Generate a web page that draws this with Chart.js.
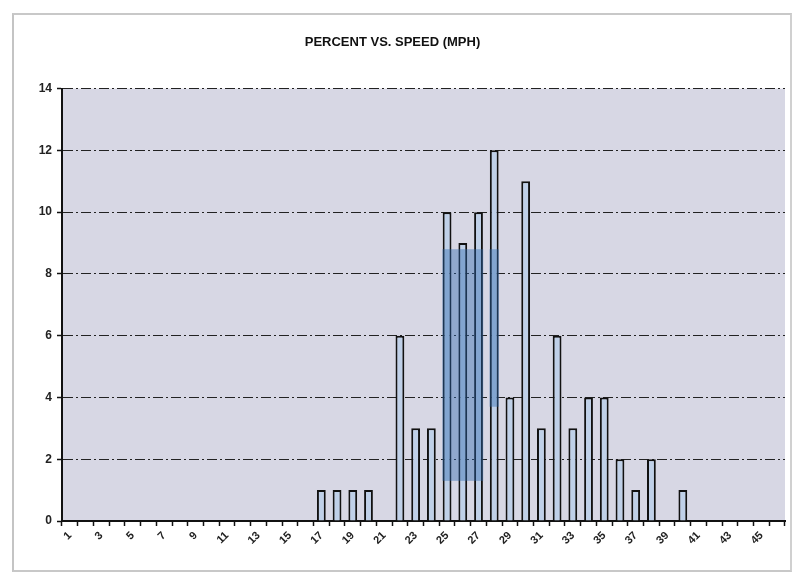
<!DOCTYPE html>
<html>
<head>
<meta charset="utf-8">
<script src="https://cdn.jsdelivr.net/npm/chart.js@4.4.1/dist/chart.umd.min.js"></script>
<style>
  html, body { margin: 0; padding: 0; background: #ffffff; }
  body { width: 799px; height: 572px; position: relative; overflow: hidden; }
  #frame { position: absolute; left: 12px; top: 13px; width: 776px; height: 555px;
           border-left: 2px solid #c4c4c4; border-top: 2px solid #c8c8c8; border-right: 2px solid #d0d0d0; border-bottom: 2px solid #c8c8c8; }
  #c { position: absolute; left: 0; top: 0; }
</style>
</head>
<body>
<div id="frame"></div>
<canvas id="c" width="799" height="572"></canvas>
<script>
// Categories: speed (mph)
const speeds = ['1','2','3','4','5','6','7','8','9','10','11','12','13','14','15','16','17','18','19','20',
                '21','22','23','24','25','26','27','28','29','30','31','32','33','34','35','36','37','38','39','40',
                '41','42','43','44','45','46'];
// Percent of vehicles at each speed
const percents = [0,0,0,0,0,0,0,0,0,0,0,0,0,0,0,0,1,1,1,1,
                  0,6,3,3,10,9,10,12,4,11,3,6,3,4,4,2,1,2,0,1,
                  0,0,0,0,0,0];
// Y axis ticks
const yTicks = [0,2,4,6,8,10,12,14];
// Highlighter marks (scanned overlay) in data units: [firstCategoryIndex, lastCategoryIndex, yLow, yHigh]
const highlightMain = [24, 26, 1.3, 8.8];
const highlightRight = [27, 27, 3.7, 8.8];

const plotBg = {
  id: 'plotBg',
  beforeDraw(chart) {
    const {ctx, chartArea: a} = chart;
    ctx.save();
    ctx.fillStyle = '#d7d7e4';
    ctx.fillRect(a.left, a.top, a.right - a.left, a.bottom - a.top);
    ctx.restore();
  }
};

const highlighter = {
  id: 'highlighter',
  afterDatasetsDraw(chart) {
    const {ctx, scales: {x, y}} = chart;
    const half = x.getPixelForValue(1) - x.getPixelForValue(0);
    const draw = (h) => {
      const l = x.getPixelForValue(h[0]) - half * 0.3;
      const r = x.getPixelForValue(h[1]) + half * 0.3;
      const t = y.getPixelForValue(h[3]);
      const b = y.getPixelForValue(h[2]);
      ctx.fillRect(l, t, r - l, b - t);
    };
    ctx.save();
    ctx.fillStyle = 'rgba(45,105,175,0.42)';
    draw(highlightMain);
    draw(highlightRight);
    ctx.restore();
  }
};

new Chart(document.getElementById('c'), {
  type: 'bar',
  data: {
    labels: speeds,
    datasets: [{
      data: percents,
      backgroundColor: '#bfd0e8',
      borderColor: '#111111',
      borderWidth: 2,
      borderSkipped: 'bottom',
      barPercentage: 0.56,
      categoryPercentage: 1.0
    }]
  },
  options: {
    responsive: false,
    animation: false,
    devicePixelRatio: 1,
    layout: { padding: { left: 0, right: 14, top: 0, bottom: 0 } },
    plugins: {
      legend: { display: false },
      tooltip: { enabled: false },
      title: {
        display: true,
        text: 'PERCENT VS. SPEED (MPH)',
        color: '#111',
        font: { family: 'Liberation Sans', size: 13, weight: 'bold' },
        padding: { top: 35, bottom: 38 }
      }
    },
    scales: {
      x: {
        offset: true,
        grid: { display: true, drawOnChartArea: false, drawTicks: true, tickLength: 5, offset: true,
                tickColor: '#111', tickWidth: 1.5 },
        border: { display: true, color: '#111', width: 2 },
        ticks: {
          autoSkip: false,
          minRotation: 45, maxRotation: 45,
          padding: 3,
          color: '#222',
          font: { family: 'Liberation Sans', size: 11, weight: 'bold' },
          callback: function(v, i) { return i % 2 === 0 ? speeds[i] : ''; }
        },
        afterFit(scale) { scale.height = 51; }
      },
      y: {
        min: 0, max: 14,
        afterBuildTicks(scale) { scale.ticks = yTicks.map(v => ({ value: v })); },
        grid: { color: '#222', lineWidth: 1, drawTicks: true, tickLength: 5,
                tickColor: '#111', tickWidth: 1.5, tickBorderDash: [] },
        border: { display: true, color: '#111', width: 2, dash: [10, 3, 2, 3] },
        ticks: {
          color: '#222', padding: 5,
          font: { family: 'Liberation Sans', size: 12, weight: 'bold' }
        },
        afterFit(scale) { scale.width = 62; }
      }
    }
  },
  plugins: [plotBg, highlighter]
});
</script>
</body>
</html>
